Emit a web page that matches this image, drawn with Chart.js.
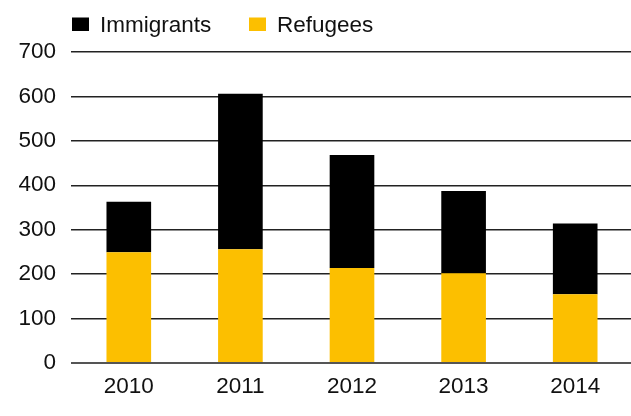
<!DOCTYPE html>
<html>
<head>
<meta charset="utf-8">
<script src="https://cdn.jsdelivr.net/npm/chart.js@4.4.1/dist/chart.umd.min.js"></script>
<style>
  html, body { margin: 0; padding: 0; background: #fff; }
  canvas { display: block; }
</style>
</head>
<body>
<canvas id="chart" width="631" height="416"></canvas>
<script>
// Arrivals per year, stacked: refugees at the base, other immigrants on top
const years = ['2010', '2011', '2012', '2013', '2014'];
const refugees = [249, 256, 214, 202, 155];
const immigrants = [114, 350, 254, 185, 159];
const yMax = 700;
const yStep = 100;

const BLACK = '#000000';
const YELLOW = '#FCBF00';
const FONT = '"Liberation Sans", Arial, Helvetica, sans-serif';

// Simple legend row across the top: swatch + label, Immigrants first
const topLegend = {
  id: 'topLegend',
  afterDraw(chart) {
    const ctx = chart.ctx;
    const order = [1, 0];
    const xs = [72, 249];
    ctx.save();
    ctx.font = '22.5px ' + FONT;
    ctx.textBaseline = 'alphabetic';
    ctx.textAlign = 'left';
    order.forEach((di, i) => {
      const ds = chart.data.datasets[di];
      const x = xs[i];
      ctx.fillStyle = ds.backgroundColor;
      ctx.fillRect(x, 17.5, 17, 13.5);
      ctx.fillStyle = '#111';
      ctx.fillText(ds.label, x + 28, 31.5);
    });
    ctx.restore();
  }
};

new Chart(document.getElementById('chart'), {
  type: 'bar',
  data: {
    labels: years,
    datasets: [
      { label: 'Refugees', data: refugees, backgroundColor: YELLOW, stack: 's' },
      { label: 'Immigrants', data: immigrants, backgroundColor: BLACK, stack: 's' }
    ]
  },
  options: {
    responsive: false,
    animation: false,
    devicePixelRatio: 1,
    layout: { padding: { top: 52, right: 0, bottom: 6, left: 0 } },
    datasets: { bar: { barPercentage: 0.4, categoryPercentage: 1.0 } },
    plugins: {
      legend: { display: false },
      tooltip: { enabled: false }
    },
    scales: {
      x: {
        stacked: true,
        grid: { display: false, drawTicks: false },
        border: { display: false },
        ticks: { color: '#111', padding: 10, font: { family: FONT, size: 22.5 } }
      },
      y: {
        stacked: true,
        min: 0,
        max: yMax,
        afterFit(scale) { scale.width = 73; },
        grid: {
          drawTicks: true,
          tickLength: 2,
          color: ctx => ctx.tick && ctx.tick.value === 0 ? '#555' : '#222',
          lineWidth: ctx => ctx.tick && ctx.tick.value === 0 ? 2 : 1.5
        },
        border: { display: false },
        ticks: { stepSize: yStep, color: '#111', padding: 15, font: { family: FONT, size: 22.5 } }
      }
    }
  },
  plugins: [topLegend]
});
</script>
</body>
</html>
